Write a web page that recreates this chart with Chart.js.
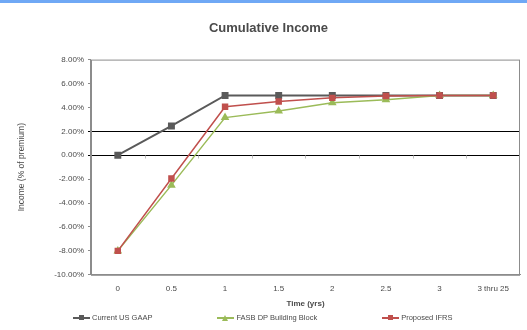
<!DOCTYPE html>
<html>
<head>
<meta charset="utf-8">
<script src="https://cdn.jsdelivr.net/npm/chart.js@4.4.0/dist/chart.umd.min.js"></script>
<style>
  html, body { margin: 0; padding: 0; background: #fff; }
  #wrap { width: 527px; height: 330px; position: relative; border-top: 3px solid #6fa8f5; box-sizing: border-box; }
  #myChart { display: block; }
  #legend { position: absolute; left: 73px; top: 310px; display: flex; gap: 65px;
            font: 7.5px "Liberation Sans", Arial, sans-serif; color: #4a4a4a; }
  .item { display: flex; align-items: center; white-space: nowrap; }
  .swatch { position: relative; width: 17px; height: 2px; margin-right: 2px; }
  .mark { position: absolute; left: 6px; top: -2px; width: 5px; height: 5px; }
  .tri { position: absolute; left: 5px; top: -2px; width: 0; height: 0;
         border-left: 3.5px solid transparent; border-right: 3.5px solid transparent; border-bottom: 6px solid; }
</style>
</head>
<body>
<div id="wrap">
  <canvas id="myChart" width="527" height="327"></canvas>
  <div id="legend"></div>
</div>
<script>
// Time categories (years)
const timeLabels = ['0', '0.5', '1', '1.5', '2', '2.5', '3', '3 thru 25'];

// Cumulative income, % of premium
const gaapValues = [0, 2.45, 5, 5, 5, 5, 5, 5];
const fasbValues = [-8, -2.5, 3.15, 3.7, 4.4, 4.65, 5, 5];
const ifrsValues = [-8, -1.95, 4.05, 4.5, 4.8, 4.95, 5, 5];

const yMin = -10;
const yMax = 8;
const yStep = 2;
// black reference lines
const markedLevels = [0, 2];

const fontFamily = '"Liberation Sans", Arial, sans-serif';
const textColor = '#4a4a4a';

// outline of the plot + small category ticks sitting on the 0% line
const plotFrame = {
    id: 'plotFrame',
    afterDatasetsDraw(chart) {
        const { ctx, chartArea, scales } = chart;
        ctx.save();
        ctx.strokeStyle = '#8c8c8c';
        ctx.lineWidth = 1;
        ctx.strokeRect(chartArea.left + 0.5, chartArea.top + 0.5,
            chartArea.right - chartArea.left - 1, chartArea.bottom - chartArea.top);

        const zeroY = Math.round(scales.y.getPixelForValue(0)) + 0.5;
        const n = timeLabels.length;
        ctx.strokeStyle = '#bdbdbd';
        ctx.beginPath();
        for (let i = 1; i < n; i++) {
            const x = Math.round((scales.x.getPixelForValue(i - 1) + scales.x.getPixelForValue(i)) / 2) + 0.5;
            ctx.moveTo(x, zeroY);
            ctx.lineTo(x, zeroY + 3);
        }
        ctx.stroke();
        ctx.restore();
    }
};

// Excel-style legend: line with the marker in the middle
function buildLegend(chart) {
    const box = document.getElementById('legend');
    chart.data.datasets.forEach(ds => {
        const item = document.createElement('div');
        item.className = 'item';
        const sw = document.createElement('span');
        sw.className = 'swatch';
        sw.style.background = ds.borderColor;
        const mk = document.createElement('span');
        if (ds.pointStyle === 'triangle') {
            mk.className = 'tri';
            mk.style.borderBottomColor = ds.borderColor;
        } else {
            mk.className = 'mark';
            mk.style.background = ds.borderColor;
        }
        sw.appendChild(mk);
        item.appendChild(sw);
        item.appendChild(document.createTextNode(ds.label));
        box.appendChild(item);
    });
}

function createChart() {
    const ctx = document.getElementById('myChart');

    const chart = new Chart(ctx, {
        type: 'line',
        data: {
            labels: timeLabels,
            datasets: [{
                label: 'Current US GAAP',
                data: gaapValues,
                borderColor: '#5a5a5a',
                backgroundColor: '#5a5a5a',
                borderWidth: 2,
                pointStyle: 'rect',
                pointRadius: 3.5,
                order: 2
            }, {
                label: 'FASB DP Building Block',
                data: fasbValues,
                borderColor: '#9bbb59',
                backgroundColor: '#9bbb59',
                borderWidth: 1.5,
                pointStyle: 'triangle',
                pointRadius: 3.5,
                order: 1
            }, {
                label: 'Proposed IFRS',
                data: ifrsValues,
                borderColor: '#c0504d',
                backgroundColor: '#c0504d',
                borderWidth: 1.5,
                pointStyle: 'rect',
                pointRadius: 3.5,
                order: 0
            }]
        },
        options: {
            responsive: false,
            animation: false,
            layout: { padding: { left: 17, right: 7, top: 18, bottom: 21 } },
            plugins: {
                title: {
                    display: true,
                    text: 'Cumulative Income',
                    color: textColor,
                    font: { family: fontFamily, size: 13, weight: 'bold' },
                    padding: { top: 0, bottom: 23 }
                },
                legend: { display: false },
                tooltip: { enabled: false }
            },
            scales: {
                x: {
                    offset: true,
                    grid: { display: false },
                    border: { display: true, color: '#8c8c8c' },
                    ticks: {
                        color: textColor,
                        font: { family: fontFamily, size: 8 },
                        padding: 1,
                        maxRotation: 0
                    },
                    title: {
                        display: true,
                        text: 'Time (yrs)',
                        color: textColor,
                        font: { family: fontFamily, size: 8, weight: 'bold' },
                        padding: { top: 5, bottom: 0 }
                    }
                },
                y: {
                    min: yMin,
                    max: yMax,
                    border: { display: true, color: '#8c8c8c' },
                    grid: {
                        color: c => markedLevels.includes(c.tick.value) ? '#000000' : 'rgba(0,0,0,0)',
                        tickColor: c => markedLevels.includes(c.tick.value) ? '#000000' : '#8c8c8c',
                        lineWidth: 1,
                        tickLength: 3
                    },
                    ticks: {
                        stepSize: yStep,
                        color: textColor,
                        font: { family: fontFamily, size: 8 },
                        padding: 4,
                        callback: v => v.toFixed(2) + '%'
                    },
                    title: {
                        display: true,
                        text: 'Income (% of premium)',
                        color: textColor,
                        font: { family: fontFamily, size: 8.5 },
                        padding: { top: 0, bottom: 23 }
                    }
                }
            }
        },
        plugins: [plotFrame]
    });

    buildLegend(chart);
}

createChart();
</script>
</body>
</html>
